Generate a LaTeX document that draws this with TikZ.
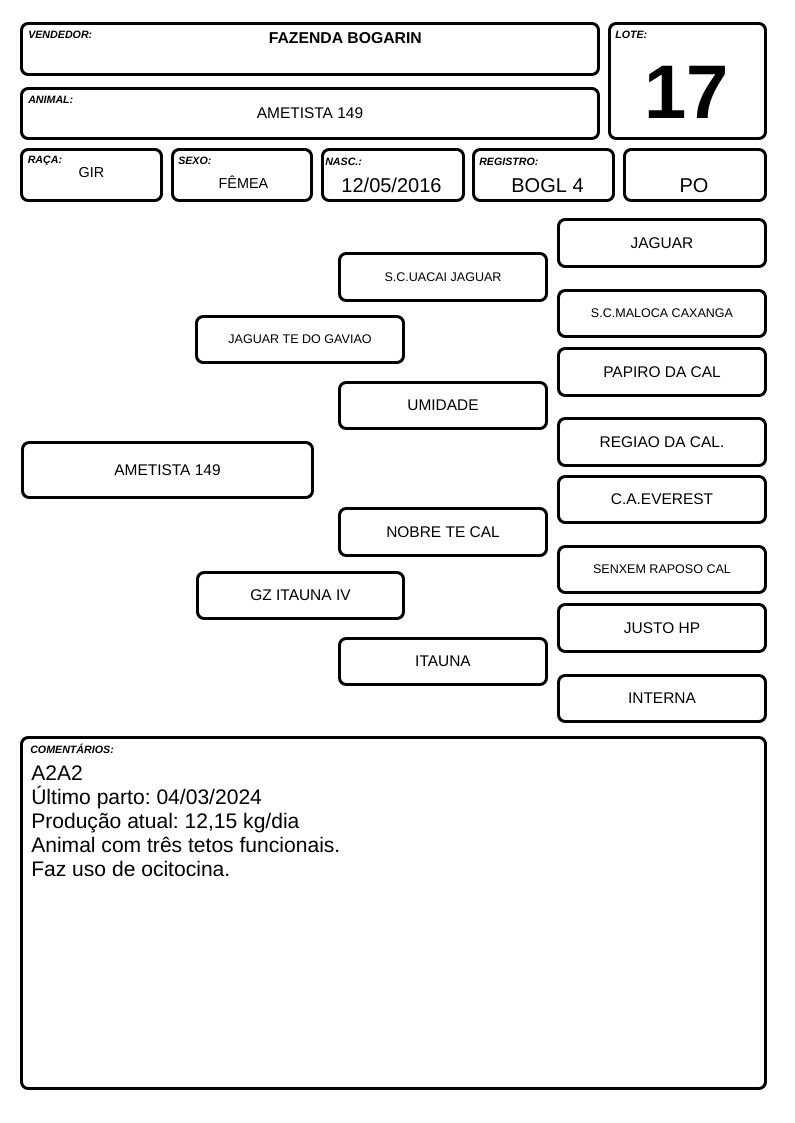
\documentclass[tikz,border=0pt]{standalone}
\usepackage{fontspec}
\setmainfont{Liberation Sans}
\frenchspacing
\newcommand{\pedbig}{\fontsize{11.6}{13}\selectfont}
\newcommand{\pedsmall}{\fontsize{9.4}{11}\selectfont}
\newcommand{\pbx}[7]{\node[pbox,font=#6,minimum width={(#4-#2-3)*0.75pt},minimum height={(#5-#3-3)*0.75pt}] (#1) at ({(#2+#4)/2},{(#3+#5)/2}) {#7};}
\begin{document}
\frenchspacing
\begin{tikzpicture}[x=0.75pt,y=-0.75pt,
  pbox/.style={draw=black,line width=2.2pt,rounded corners=5pt,inner sep=0pt,outer sep=0pt,align=center},
  lbl/.style={anchor=base west,inner sep=0pt,font=\fontsize{8}{9}\selectfont\bfseries\itshape},
  val/.style={anchor=base,inner sep=0pt},
  cmt/.style={anchor=base west,inner sep=0pt,font=\fontsize{15.8}{18}\selectfont}]
\fill[white] (0,0) rectangle (794,1123);
\useasboundingbox (0,0) rectangle (794,1123);
% header boxes
\pbx{vend}{20}{22}{600}{76}{\pedbig}{}
\pbx{lote}{608}{22}{767}{140}{\pedbig}{}
\pbx{anim}{20}{87}{600}{140}{\pedbig}{}
\pbx{raca}{20}{148}{163}{202}{\pedbig}{}
\pbx{sexo}{171}{148}{313}{202}{\pedbig}{}
\pbx{nasc}{321}{148}{465}{202}{\pedbig}{}
\pbx{regi}{472}{148}{615}{202}{\pedbig}{}
\pbx{po}{623}{148}{767}{202}{\pedbig}{}
% header labels
\node[lbl] (lvend) at (28,39) {VENDEDOR:};
\node[lbl] (llote) at (615,39) {LOTE:};
\node[lbl] (lanim) at (28,103.5) {ANIMAL:};
\node[lbl] (lraca) at (27.5,163.5) {RAÇA:};
\node[lbl] (lsexo) at (178,164.5) {SEXO:};
\node[lbl] (lnasc) at (325,166) {NASC.:};
\node[lbl] (lregi) at (479,166) {REGISTRO:};
% header values
\node[val,font=\fontsize{11.8}{13}\selectfont\bfseries] (tvend) at (345.3,43.3) {FAZENDA BOGARIN};
\node[val,font=\fontsize{57}{60}\selectfont\bfseries] (tlote) at (686.5,119) {17};
\node[val,font=\fontsize{11.6}{13}\selectfont] (tanim) at (310,118.3) {AMETISTA 149};
\node[val,font=\fontsize{10.8}{12}\selectfont] (traca) at (91.5,178) {GIR};
\node[val,font=\fontsize{10.8}{12}\selectfont] (tsexo) at (243.5,189) {FÊMEA};
\node[val,font=\fontsize{15}{17}\selectfont] (tnasc) at (391.5,192.5) {12/05/2016};
\node[val,font=\fontsize{15}{17}\selectfont] (tregi) at (547.5,192.5) {BOGL 4};
\node[val,font=\fontsize{15}{17}\selectfont] (tpo) at (694,192.5) {PO};
% pedigree
\pbx{p0}{21}{441}{314}{499}{\pedbig}{AMETISTA 149}
\pbx{p1}{195}{315}{405}{364}{\pedsmall}{JAGUAR TE DO GAVIAO}
\pbx{p2}{196}{571}{405}{620}{\pedbig}{GZ ITAUNA IV}
\pbx{p3}{338}{252}{548}{302}{\pedsmall}{S.C.UACAI JAGUAR}
\pbx{p4}{338}{381}{548}{430}{\pedbig}{UMIDADE}
\pbx{p5}{338}{507}{548}{557}{\pedbig}{NOBRE TE CAL}
\pbx{p6}{338}{637}{548}{686}{\pedbig}{ITAUNA}
\pbx{p7}{557}{218}{767}{268}{\pedbig}{JAGUAR}
\pbx{p8}{557}{289}{767}{338}{\pedsmall}{S.C.MALOCA CAXANGA}
\pbx{p9}{557}{347}{767}{397}{\pedbig}{PAPIRO DA CAL}
\pbx{p10}{557}{417}{767}{467}{\pedbig}{REGIAO DA CAL.}
\pbx{p11}{557}{475}{767}{524}{\pedbig}{C.A.EVEREST}
\pbx{p12}{557}{545}{767}{594}{\pedsmall}{SENXEM RAPOSO CAL}
\pbx{p13}{557}{603}{767}{653}{\pedbig}{JUSTO HP}
\pbx{p14}{557}{674}{767}{723}{\pedbig}{INTERNA}
% comments
\pbx{com}{20}{736}{767}{1090}{\pedbig}{}
\node[lbl] (lcom) at (30,753) {COMENTÁRIOS:};
\node[cmt] (c1) at (31,780) {A2A2};
\node[cmt] (c2) at (31,804.2) {Último parto: 04/03/2024};
\node[cmt] (c3) at (31,828.4) {Produção atual: 12,15 kg/dia};
\node[cmt] (c4) at (31,852.6) {Animal com três tetos funcionais.};
\node[cmt] (c5) at (31,876.8) {Faz uso de ocitocina.};
\end{tikzpicture}
\end{document}
